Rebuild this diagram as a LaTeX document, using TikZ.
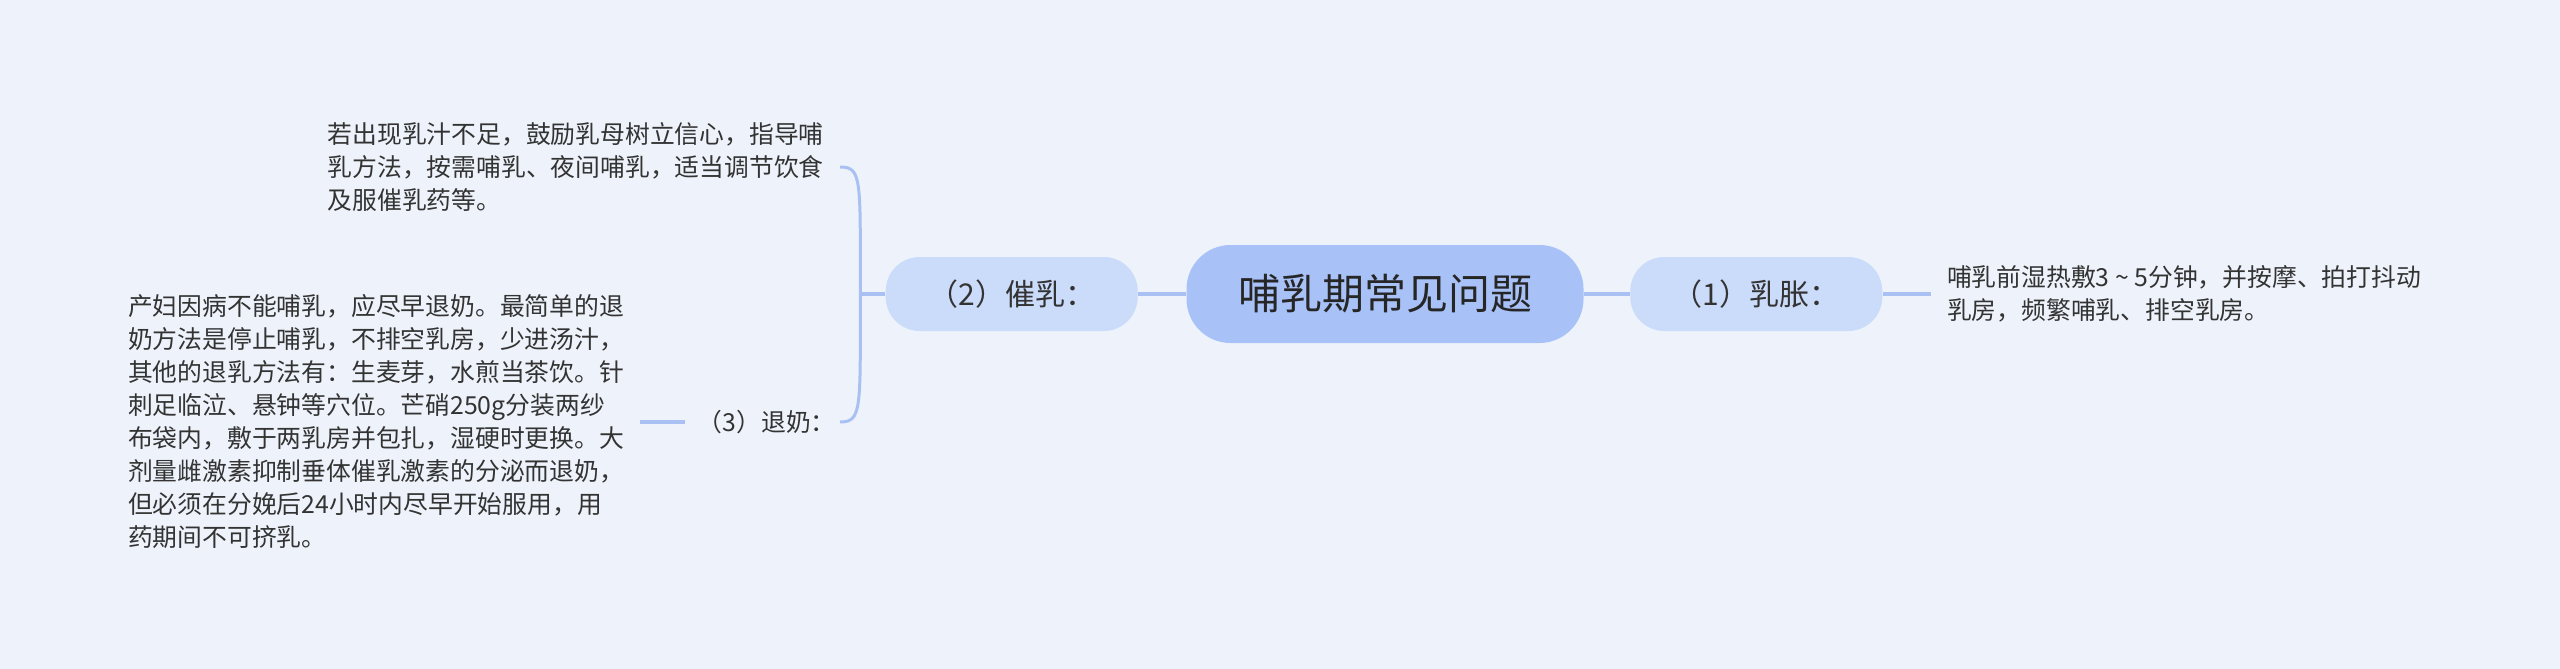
\documentclass[tikz,border=0pt]{standalone}
\usepackage{fontspec}
\setmainfont{Noto Sans CJK SC}
\usetikzlibrary{positioning}
\definecolor{bgcol}{HTML}{EEF3FB}
\definecolor{hubcol}{HTML}{A8C2F7}
\definecolor{branchcol}{HTML}{CBDBFA}
\definecolor{linkcol}{HTML}{A9C1F2}
\definecolor{inkcol}{HTML}{333333}

\begin{document}
\begin{tikzpicture}[x=0.5pt, y=-0.5pt,
		hub/.style={fill=hubcol, rounded corners=22pt, minimum width=198.5pt, minimum height=49pt, font=\fontsize{21}{25}\selectfont, text=black!85},
		branch/.style={fill=branchcol, rounded corners=17pt, minimum width=126pt, minimum height=37pt, font=\fontsize{15}{18}\selectfont, text=inkcol},
		leaf/.style={align=left, inner xsep=8pt, font=\fontsize{12.4}{16.5}\selectfont, text=inkcol},
		link/.style={draw=linkcol, line width=2pt}]
		\fill [bgcol] (0,0) rectangle (2560,669);
		\useasboundingbox (0,0) rectangle (2560,669);
		\node [hub] at (1385,294) (wenti) {哺乳期常见问题};
		\node [branch, right=23pt of wenti] (ruzhang) {（1）乳胀：};
		\node [branch, left=24pt of wenti] (cuiru) {（2）催乳：};
		\node [leaf, right=24pt of ruzhang] (ruzhangtxt) {哺乳前湿热敷3 \textasciitilde\ 5分钟，并按摩、拍打抖动\\乳房，频繁哺乳、排空乳房。};
		\coordinate [left=12.5pt of cuiru] (cuirufork);
		\node [leaf, anchor=east] at (840,167) (cuirutxt) {若出现乳汁不足，鼓励乳母树立信心，指导哺\\乳方法，按需哺乳、夜间哺乳，适当调节饮食\\及服催乳药等。};
		\node [leaf, anchor=east, inner xsep=2pt] at (840,422) (tuinai) {（3）退奶：};
		\node [leaf, left=26.5pt of tuinai] (tuinaitxt) {产妇因病不能哺乳，应尽早退奶。最简单的退\\奶方法是停止哺乳，不排空乳房，少进汤汁，\\其他的退乳方法有：生麦芽，水煎当茶饮。针\\刺足临泣、悬钟等穴位。芒硝250g分装两纱\\布袋内，敷于两乳房并包扎，湿硬时更换。大\\剂量雌激素抑制垂体催乳激素的分泌而退奶，\\但必须在分娩后24小时内尽早开始服用，用\\药期间不可挤乳。};
		\draw [link] (cuiru) -- (wenti) -- (ruzhang) -- (ruzhangtxt);
		\draw [link] (cuiru) -- (cuirufork);
		\draw [link, line width=1.5pt] (cuirufork) .. controls +(0,-115) and +(22,0) .. (cuirutxt.east);
		\draw [link, line width=1.5pt] (cuirufork) .. controls +(0,115) and +(22,0) .. (tuinai.east);
		\draw [link, shorten >=4pt] (tuinaitxt) -- (tuinai);
		\end{tikzpicture}
\end{document}
